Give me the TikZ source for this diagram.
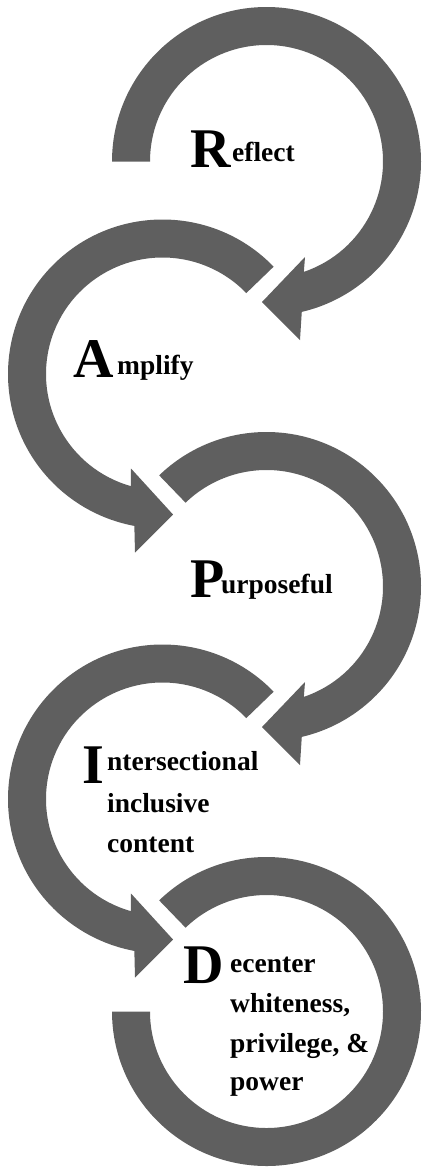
\documentclass[tikz,border=0pt]{standalone}
\usepackage{fontspec}
\setmainfont{Liberation Serif}
\definecolor{bandgray}{RGB}{95,95,95}
\tikzset{
  band/.style={fill=bandgray},
  bigletter/.style={anchor=base west,inner sep=0pt,font=\fontsize{56}{56}\selectfont\bfseries},
  word/.style={anchor=base west,inner sep=0pt,font=\fontsize{27.5}{33}\selectfont\bfseries}
}
\begin{document}
\begin{tikzpicture}[x=1pt,y=1pt]
        \useasboundingbox (0,0) rectangle (423,-1167);
        %reflect
        \begin{scope}[shift={(266.5,-161.5)}]
          \fill[band](180:154.5) arc[start angle=180,end angle=-76.8,radius=154.5]
            -- (33.5,-178.5) -- (-4.5,-140.5) -- (38.5,-95.5)
            -- (-71.3:116.5) arc[start angle=-71.3,end angle=180,radius=116.5]
            -- cycle;
        \end{scope}
        %amplify
        \begin{scope}[shift={(162.5,-374)}]
          \fill[band](44:154.5) arc[start angle=44,end angle=259.5,radius=154.5]
            -- (-27.5,-178.5) -- (10.5,-140.5) -- (-31.5,-94.5)
            -- (254.2:116.5) arc[start angle=254.2,end angle=44,radius=116.5]
            -- cycle;
        \end{scope}
        %purposeful
        \begin{scope}[shift={(266.5,-586.5)}]
          \fill[band](134:154.5) arc[start angle=134,end angle=-76.8,radius=154.5]
            -- (33.5,-178.5) -- (-4.5,-140.5) -- (38.5,-95.5)
            -- (-71.3:116.5) arc[start angle=-71.3,end angle=134,radius=116.5]
            -- cycle;
        \end{scope}
        %intersectional
        \begin{scope}[shift={(162.5,-799)}]
          \fill[band](44:154.5) arc[start angle=44,end angle=259.5,radius=154.5]
            -- (-27.5,-178.5) -- (10.5,-140.5) -- (-31.5,-94.5)
            -- (254.2:116.5) arc[start angle=254.2,end angle=44,radius=116.5]
            -- cycle;
        \end{scope}
        %decenter
        \begin{scope}[shift={(266.5,-1011.5)}]
          \fill[band](134:154.5) arc[start angle=134,end angle=-180,radius=154.5]
            -- (180:116.5) arc[start angle=-180,end angle=134,radius=116.5]
            -- cycle;
        \end{scope}
        %labels
        \node[bigletter] (R) at (190,-167) {R};
        \node[word] (reflect) at (232,-161) {eflect};
        \node[bigletter] (A) at (73,-377) {A};
        \node[word] (amplify) at (117,-374) {mplify};
        \node[bigletter] (P) at (190,-597) {P};
        \node[word] (purposeful) at (221,-593) {urposeful};
        \node[bigletter] (I) at (82,-783) {I};
        \node[word] (inter1) at (107,-770) {ntersectional};
        \node[word] (inter2) at (107,-812) {inclusive};
        \node[word] (inter3) at (107,-852) {content};
        \node[bigletter] (D) at (183,-983) {D};
        \node[word] (dec1) at (230,-972) {ecenter};
        \node[word] (dec2) at (230,-1012) {whiteness,};
        \node[word] (dec3) at (230,-1052) {privilege, \&};
        \node[word] (dec4) at (230,-1090) {power};

    \end{tikzpicture}
\end{document}
